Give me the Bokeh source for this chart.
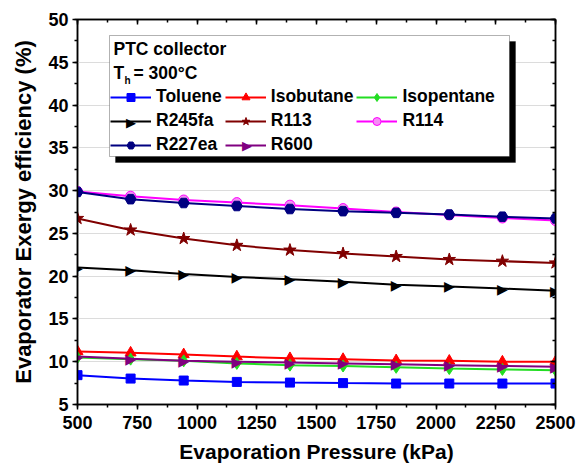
import numpy as np
from bokeh.plotting import figure
from bokeh.models import (LinearAxis, Range1d, SingleIntervalTicker, Legend, LegendItem,
                          BoxAnnotation, Label, CustomJSTickFormatter, ColumnDataSource)
from bokeh.core.properties import value
from bokeh.embed import file_html
from bokeh.resources import INLINE

# ---------------- data ----------------
pressure = [500, 722.2, 944.4, 1166.7, 1388.9, 1611.1, 1833.3, 2055.6, 2277.8, 2500]
toluene = [8.43, 8.03, 7.80, 7.64, 7.56, 7.50, 7.45, 7.45, 7.45, 7.45]
isobutane = [11.2, 11.05, 10.85, 10.6, 10.4, 10.3, 10.15, 10.1, 10.0, 10.0]
isopentane = [10.5, 10.3, 10.1, 9.8, 9.6, 9.5, 9.35, 9.2, 9.1, 9.0]
r245fa = [21.0, 20.7, 20.25, 19.9, 19.65, 19.35, 19.0, 18.8, 18.55, 18.3]
r113 = [26.75, 25.4, 24.4, 23.6, 23.05, 22.65, 22.3, 21.95, 21.75, 21.55]
r114 = [29.9, 29.35, 28.9, 28.6, 28.3, 27.9, 27.5, 27.15, 26.8, 26.5]
r227ea = [29.85, 29.0, 28.55, 28.2, 27.85, 27.6, 27.4, 27.2, 26.95, 26.75]
r600 = [10.6, 10.35, 10.1, 10.0, 9.9, 9.8, 9.7, 9.6, 9.5, 9.4]

series_names = ["Toluene", "Isobutane", "Isopentane", "R245fa", "R113", "R114", "R227ea", "R600"]
x_tick_step = 250
y_tick_step = 5

# ---------------- layout ----------------
W, H = 587, 474
L, R, T, B = 77, 32, 19, 70
FONT = "Liberation Sans"
RTRI = "\u25B6"

def dx(px):
    return 500 + (px - L) * 2000 / (W - L - R)

def dy(py):
    return 50 - (py - T) * 45 / (H - T - B)

p = figure(width=W, height=H, x_range=Range1d(500, 2500), y_range=Range1d(5, 50),
           output_backend="svg", toolbar_location=None,
           min_border_left=L, min_border_right=R, min_border_top=T, min_border_bottom=B)
p.background_fill_color = "white"
p.border_fill_color = "white"
p.outline_line_color = "black"
p.outline_line_width = 1.5

p.xgrid.visible = False
p.ygrid.grid_line_color = "#dcdcdc"
p.ygrid.grid_line_width = 1

xt = SingleIntervalTicker(interval=x_tick_step, num_minor_ticks=2)
yt = SingleIntervalTicker(interval=y_tick_step, num_minor_ticks=2)
p.xaxis.ticker = xt
p.yaxis.ticker = yt
p.ygrid.ticker = yt

for ax in (p.xaxis[0], p.yaxis[0]):
    ax.axis_line_width = 1.5
    ax.major_tick_line_width = 1.5
    ax.minor_tick_line_width = 1.5
    ax.major_tick_out = 5
    ax.major_tick_in = 0
    ax.minor_tick_out = 3
    ax.minor_tick_in = 0
    ax.major_label_text_font = FONT
    ax.major_label_text_font_style = "bold"
    ax.major_label_text_font_size = "18px"
    ax.major_label_text_color = "black"
    ax.axis_label_text_font = FONT
    ax.axis_label_text_font_style = "bold"
    ax.axis_label_text_font_size = "21px"
    ax.axis_label_text_color = "black"

p.yaxis.axis_label_text_font_size = "22px"
p.xaxis.axis_label = "Evaporation Pressure (kPa)"
p.yaxis.axis_label = "Evaporator Exergy efficiency (%)"
p.xaxis.major_label_standoff = 6
p.xaxis.axis_label_standoff = 8
p.yaxis.major_label_standoff = 4
p.yaxis.axis_label_standoff = 9

for place in ("above", "right"):
    ax = LinearAxis(ticker=SingleIntervalTicker(interval=x_tick_step if place == "above" else y_tick_step,
                                                num_minor_ticks=2),
                    formatter=CustomJSTickFormatter(code="return ''"),
                    axis_line_width=1.5, major_tick_line_width=1.5, minor_tick_line_width=1.5,
                    major_tick_in=5, major_tick_out=0, minor_tick_in=3, minor_tick_out=0,
                    major_label_text_font_size="1px", major_label_standoff=0)
    p.add_layout(ax, place)

# ---------------- series ----------------
# marker None -> right-pointing triangle drawn as a text symbol
styles = [
    (toluene, "#0000ff", "square", 9, "#0000ff"),
    (isobutane, "#ff0000", "triangle", 11, "#ff0000"),
    (isopentane, "#22dd22", "diamond", 12, "#22dd22"),
    (r245fa, "#000000", None, 14, "#000000"),
    (r113, "#800000", "star", 13, "#800000"),
    (r114, "#ff00ff", "circle", 10, "#f58cf5"),
    (r227ea, "#000080", "hex", 11, "#000080"),
    (r600, "#800080", None, 14, "#800080"),
]

items = {}
for name, (vals, col, mk, sz, fill) in zip(series_names, styles):
    src = ColumnDataSource(dict(x=pressure, y=vals, t=[RTRI] * len(pressure)))
    ln = p.line("x", "y", source=src, line_color=col, line_width=2)
    if mk is None:
        sc = p.text("x", "y", text="t", source=src, text_color=col,
                    text_font=value("DejaVu Sans"), text_font_size=f"{sz}px",
                    text_align="center", text_baseline="middle")
    else:
        sc = p.scatter("x", "y", source=src, marker=mk, size=sz,
                       fill_color=fill, line_color=col, line_width=1)
    items[name] = LegendItem(label=name, renderers=[ln, sc])

# legend is filled column by column: reorder so rows read as in the reference
legend_order = ["Toluene", "R245fa", "R227ea", "Isobutane", "R113", "R600", "Isopentane", "R114"]

# ---------------- legend box ----------------
shadow = BoxAnnotation(left=dx(115), right=dx(515), top=dy(41), bottom=dy(162),
                       fill_color="black", fill_alpha=1, line_color="black")
box = BoxAnnotation(left=dx(109), right=dx(509), top=dy(35), bottom=dy(156),
                    fill_color="white", fill_alpha=1, line_color="black", line_width=1)
p.add_layout(shadow)
p.add_layout(box)

legend = Legend(items=[items[n] for n in legend_order], ncols=3, location=(33, 249),
                background_fill_alpha=0, border_line_alpha=0,
                label_text_font=FONT, label_text_font_style="bold",
                label_text_font_size="17.5px", label_text_color="black",
                glyph_width=41, glyph_height=20, label_height=20,
                label_standoff=5, spacing=3, padding=0, margin=0)
p.add_layout(legend)

# text-symbol markers inside the legend samples (legend does not draw text glyphs)
for (gx, gy), col in (((130.6, 122), "#000000"), ((246.6, 145), "#800080")):
    p.add_layout(Label(x=dx(gx), y=dy(gy), text=RTRI, text_color=col,
                       text_font="DejaVu Sans", text_font_size="13px",
                       text_align="center", text_baseline="middle"))

title_kw = dict(text_font=FONT, text_font_style="bold", text_color="black", text_baseline="middle")
p.add_layout(Label(x=dx(113), y=dy(48), text="PTC collector", text_font_size="17.5px", **title_kw))
p.add_layout(Label(x=dx(113), y=dy(72), text="T", text_font_size="17.5px", **title_kw))
p.add_layout(Label(x=dx(124), y=dy(80), text="h", text_font_size="10px", **title_kw))
p.add_layout(Label(x=dx(133), y=dy(72), text="= 300°C", text_font_size="17.5px", **title_kw))

open("out.html", "w").write(file_html(p, INLINE))
